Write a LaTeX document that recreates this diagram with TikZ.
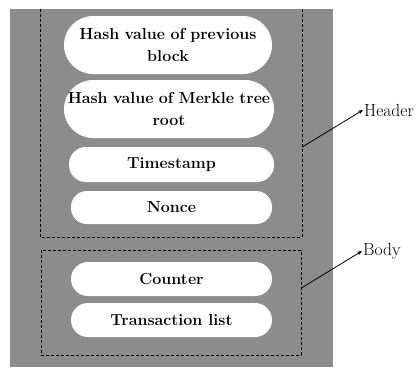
\documentclass[tikz,border=0pt]{standalone}
\usetikzlibrary{arrows.meta}
\definecolor{bggray}{RGB}{140,140,140}
\tikzset{
  pill/.style={fill=white, rounded corners=#1, inner sep=0pt, align=center,
    font=\fontsize{16}{22}\selectfont\bfseries},
  boxline/.style={densely dashed, line width=0.8pt, black},
  lbl/.style={anchor=west, inner sep=1pt, font=\fontsize{17.5}{19}\selectfont},
  conn/.style={-{Stealth[length=5pt,width=4pt]}, line width=0.8pt}
}
\begin{document}
\begin{tikzpicture}[x=1pt,y=-1pt]
\useasboundingbox (0,0) rectangle (419,367);
\fill[bggray] (10,9) rectangle (333,367);
% header box
\node[minimum width=261pt, minimum height=228pt, inner sep=0pt] (hdr) at (171.5,123) {};
\draw[boxline] (hdr.north west) -- (hdr.south west) -- (hdr.south east) -- (hdr.north east);
% body box
\node[draw, boxline, minimum width=260pt, minimum height=105pt, inner sep=0pt] (bdy) at (171,302.5) {};
% pills
\node[pill=29pt, minimum width=208pt, minimum height=58pt, text width=208pt] (p1) at (168,45) {Hash value of previous\\block};
\node[pill=29pt, minimum width=210pt, minimum height=58pt, text width=210pt] (p2) at (169,109) {Hash value of Merkle tree\\root};
\node[pill=17pt, minimum width=205pt, minimum height=35pt] (p3) at (171.5,164.5) {Timestamp};
\node[pill=16pt, minimum width=201pt, minimum height=33pt] (p4) at (171.5,207.5) {Nonce};
\node[pill=17pt, minimum width=201pt, minimum height=34pt] (p5) at (171.5,279) {Counter};
\node[pill=17pt, minimum width=201pt, minimum height=34pt] (p6) at (171.5,320) {Transaction list};
% labels
\node[lbl] (hl) at (363,110) {Header};
\node[lbl] (bl) at (362,251) {Body};
\coordinate (ha) at (hdr.east |- 0,147);
\coordinate (ba) at (bdy.east |- 0,288);
\draw[conn] (ha) -- (hl.west);
\draw[conn] (ba) -- (bl.west);
\end{tikzpicture}
\end{document}
